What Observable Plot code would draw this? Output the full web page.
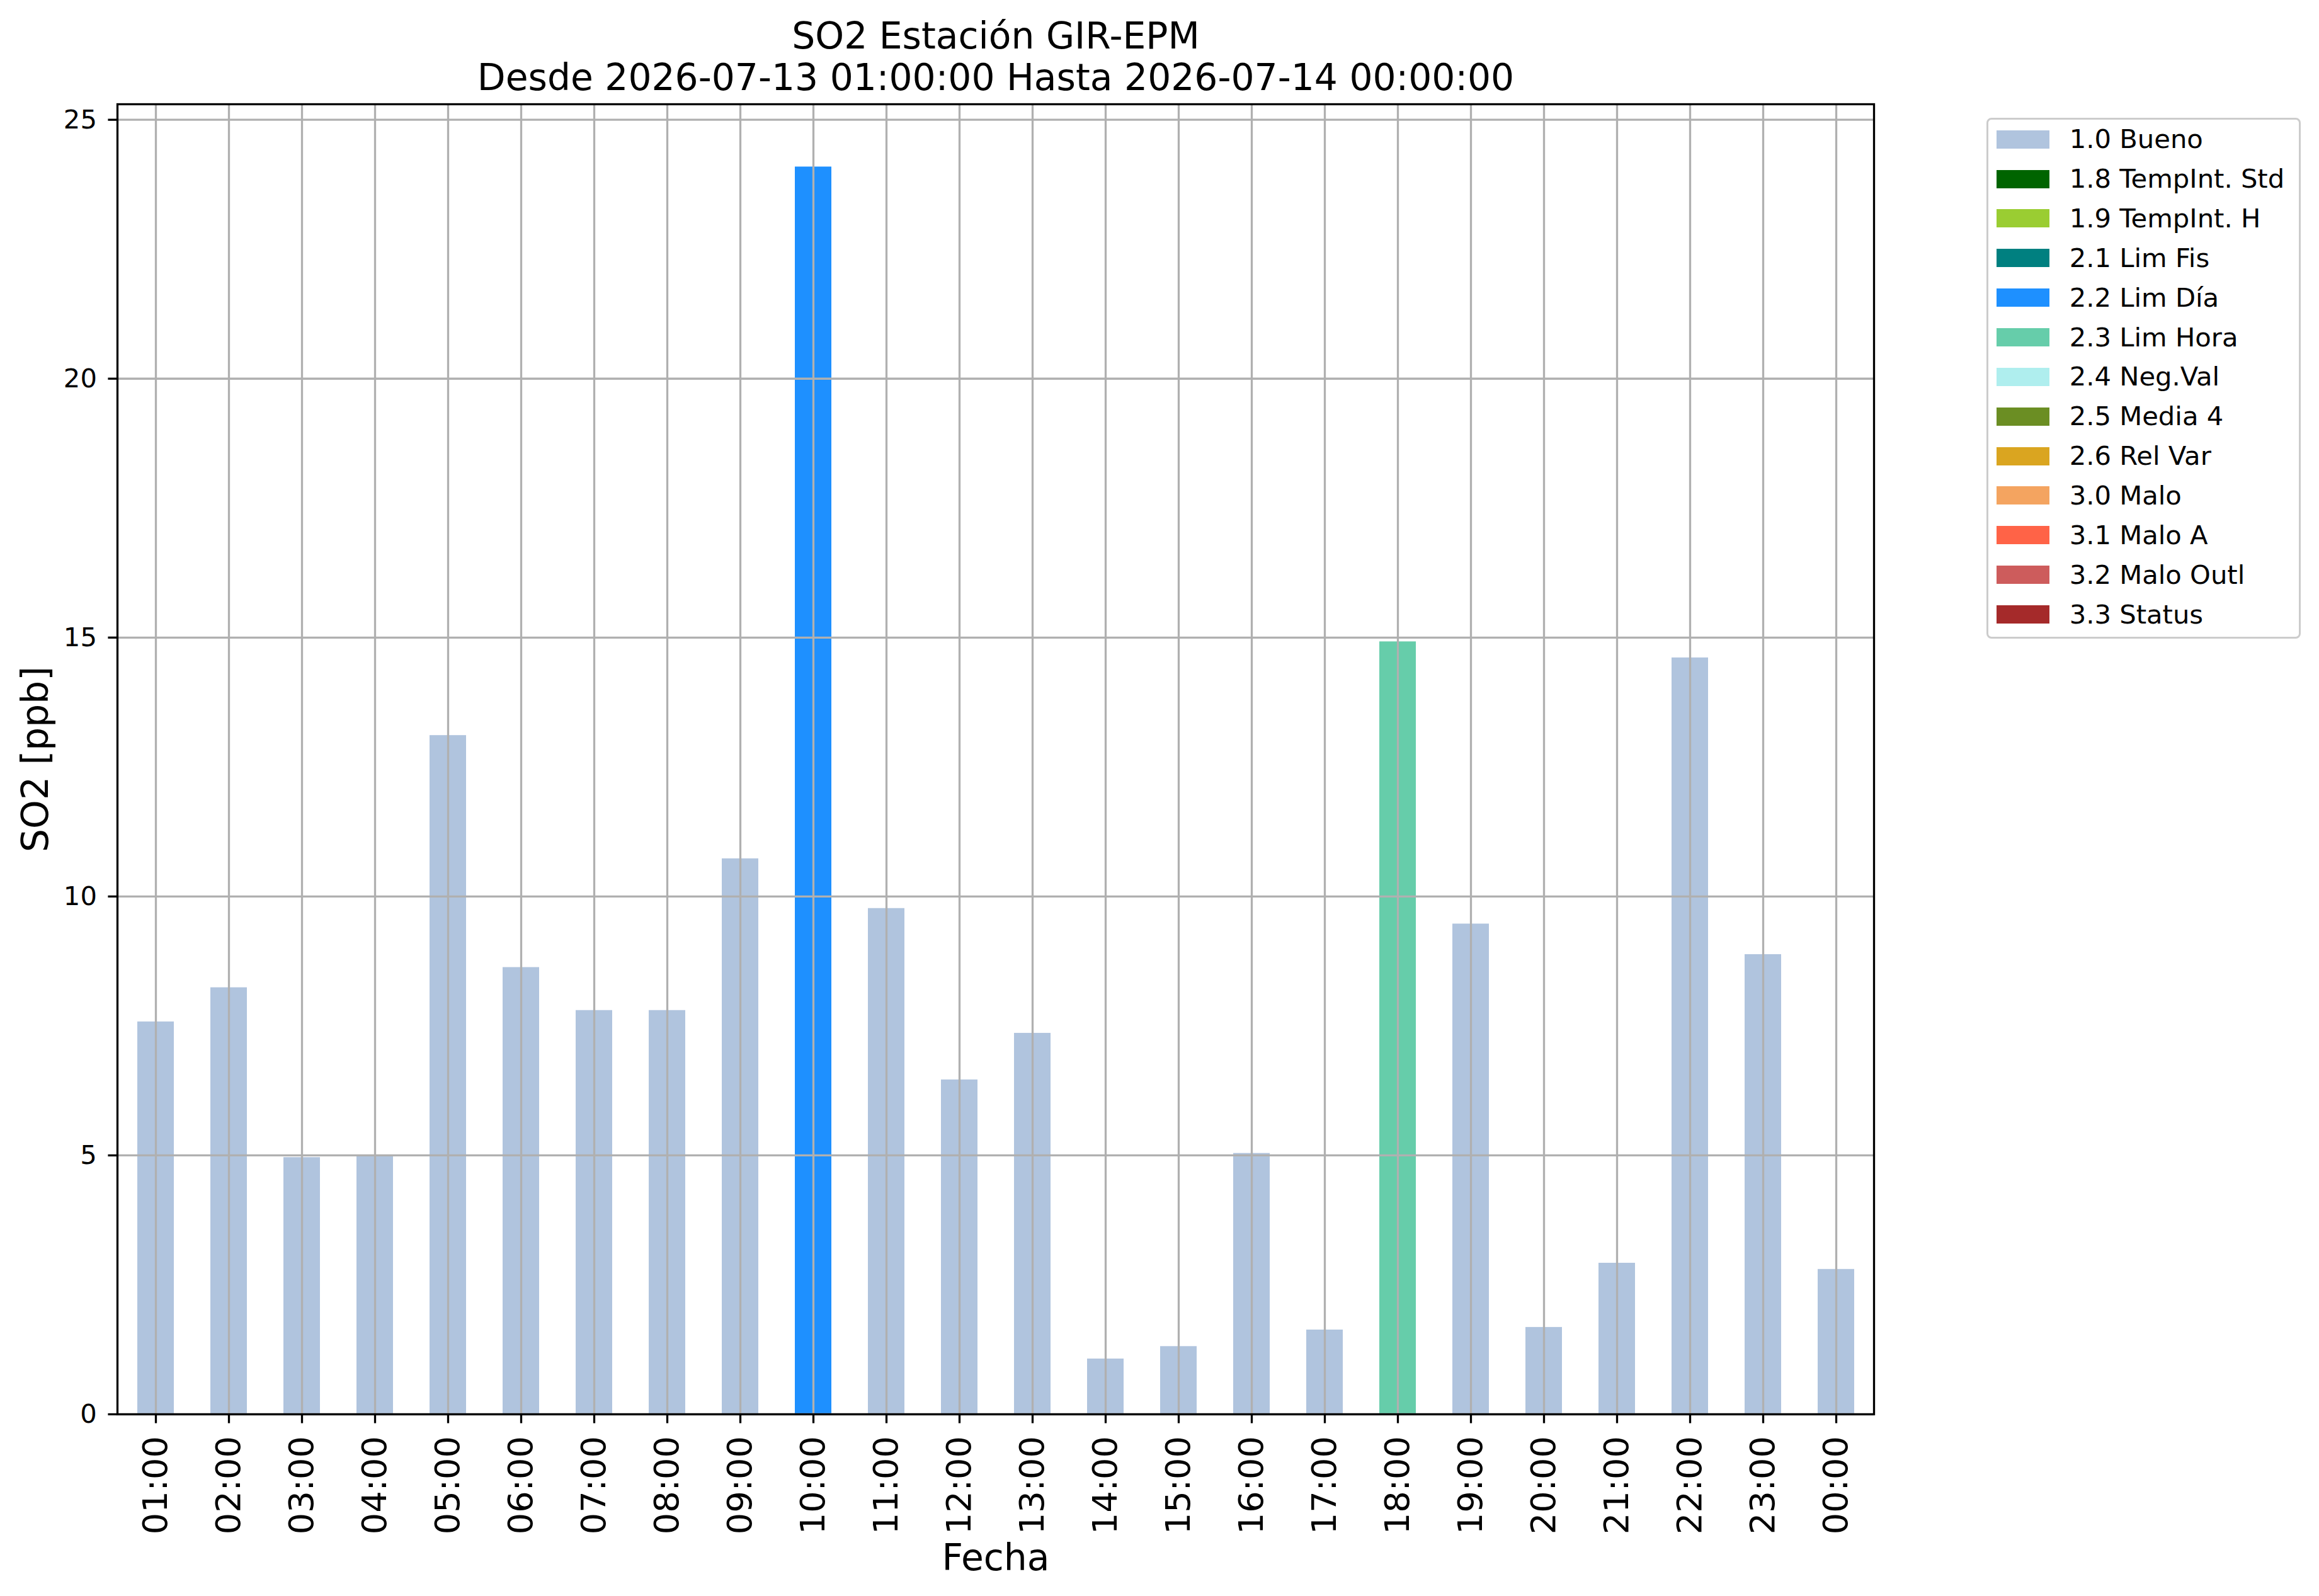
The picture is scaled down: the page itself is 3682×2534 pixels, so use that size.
<!DOCTYPE html>
<html>
<head>
<meta charset="utf-8">
<script src="https://cdn.jsdelivr.net/npm/d3@7"></script>
<script src="https://cdn.jsdelivr.net/npm/@observablehq/plot@0.6"></script>
<style>
html, body { margin: 0; padding: 0; background: #ffffff; }
#wrap { position: relative; width: 3682px; height: 2534px; font-family: "DejaVu Sans"; background: #ffffff; overflow: hidden; }
#chart { position: absolute; left: 0; top: 0; }
#legend { position: absolute; left: 3154px; top: 187px; width: 499px; height: 827px; box-sizing: border-box;
  border: 3.3px solid #cccccc; border-radius: 8px; background: #ffffff; }
.sw { position: absolute; left: 13.2px; width: 83.5px; height: 29px; }
.lt { position: absolute; left: 128.7px; height: 41.7px; line-height: 41.7px; font-size: 41.7px; color: #000; white-space: nowrap; }
</style>
</head>
<body>
<div id="wrap"><div id="chart"></div><div id="legend"></div></div>
<script>
// ---- data ----
const hours = ["01:00","02:00","03:00","04:00","05:00","06:00","07:00","08:00","09:00","10:00","11:00","12:00",
               "13:00","14:00","15:00","16:00","17:00","18:00","19:00","20:00","21:00","22:00","23:00","00:00"];
const values = [7.58, 8.24, 4.96, 5.00, 13.11, 8.63, 7.80, 7.80, 10.73, 24.09, 9.77, 6.46,
                7.36, 1.07, 1.31, 5.04, 1.63, 14.92, 9.47, 1.68, 2.92, 14.61, 8.88, 2.80];
const flags = ["1.0 Bueno","1.0 Bueno","1.0 Bueno","1.0 Bueno","1.0 Bueno","1.0 Bueno","1.0 Bueno","1.0 Bueno",
               "1.0 Bueno","2.2 Lim Día","1.0 Bueno","1.0 Bueno","1.0 Bueno","1.0 Bueno","1.0 Bueno","1.0 Bueno",
               "1.0 Bueno","2.3 Lim Hora","1.0 Bueno","1.0 Bueno","1.0 Bueno","1.0 Bueno","1.0 Bueno","1.0 Bueno"];
const flagLabels = ["1.0 Bueno","1.8 TempInt. Std","1.9 TempInt. H","2.1 Lim Fis","2.2 Lim Día","2.3 Lim Hora",
                    "2.4 Neg.Val","2.5 Media 4","2.6 Rel Var","3.0 Malo","3.1 Malo A","3.2 Malo Outl","3.3 Status"];
const flagColors = ["#b0c4de","#006400","#9acd32","#008080","#1e90ff","#66cdaa",
                    "#afeeee","#6b8e23","#daa520","#f4a460","#ff6347","#cd5c5c","#a52a2a"];
const yTicks = [0, 5, 10, 15, 20, 25];
const titleLines = ["SO2 Estación GIR-EPM", "Desde 2026-07-13 01:00:00 Hasta 2026-07-14 00:00:00"];
const xLabel = "Fecha";
const yLabel = "SO2 [ppb]";

const table = hours.map((h, i) => ({hour: h, value: values[i], flag: flags[i]}));

const grid = {stroke: "#b0b0b0", strokeOpacity: 1, strokeWidth: 3.3};

const chart = Plot.plot({
  width: 3682,
  height: 2534,
  marginLeft: 186,
  marginRight: 707,
  marginTop: 165,
  marginBottom: 289,
  style: {fontFamily: "DejaVu Sans", fontSize: "41.7px", background: "transparent", color: "#000"},
  x: {domain: hours, paddingInner: 0.5, paddingOuter: 0.25, label: null},
  y: {domain: [0, 25.3], label: null},
  color: {domain: flagLabels, range: flagColors},
  marks: [
    Plot.barY(table, {x: "hour", y: "value", fill: "flag"}),
    Plot.gridX({...grid}),
    Plot.gridY(yTicks, {...grid}),
    Plot.axisY(yTicks, {tickSize: 14.6, tickPadding: 18, strokeWidth: 3.3, fontSize: 41.7, label: null, tickFormat: d => String(d)}),
    Plot.axisX({tickSize: 14.6, tickPadding: 20, tickRotate: -90, strokeWidth: 3.3, fontSize: 54.2, label: null}),
    Plot.frame({stroke: "#000", strokeWidth: 3.3}),
    Plot.text([titleLines[0]], {text: d => d, frameAnchor: "top", textAnchor: "middle", lineAnchor: "bottom", dy: -89, fontSize: 58.3}),
    Plot.text([titleLines[1]], {text: d => d, frameAnchor: "top", textAnchor: "middle", lineAnchor: "bottom", dy: -23, fontSize: 58.3}),
    Plot.text([xLabel], {text: d => d, frameAnchor: "bottom", textAnchor: "middle", lineAnchor: "bottom", dy: 247, fontSize: 58.3}),
    Plot.text([yLabel], {text: d => d, frameAnchor: "left", textAnchor: "middle", lineAnchor: "bottom", rotate: -90, dx: -111, fontSize: 58.3})
  ]
});
document.getElementById("chart").appendChild(chart);

// ---- legend ----
const legend = document.getElementById("legend");
flagLabels.forEach((lab, i) => {
  const cy = 31.2 + i * 62.85;
  const sw = document.createElement("div");
  sw.className = "sw";
  sw.style.top = (cy - 14.5) + "px";
  sw.style.background = flagColors[i];
  legend.appendChild(sw);
  const t = document.createElement("div");
  t.className = "lt";
  t.style.top = (cy - 20.85) + "px";
  t.textContent = lab;
  legend.appendChild(t);
});
</script>
</body>
</html>
